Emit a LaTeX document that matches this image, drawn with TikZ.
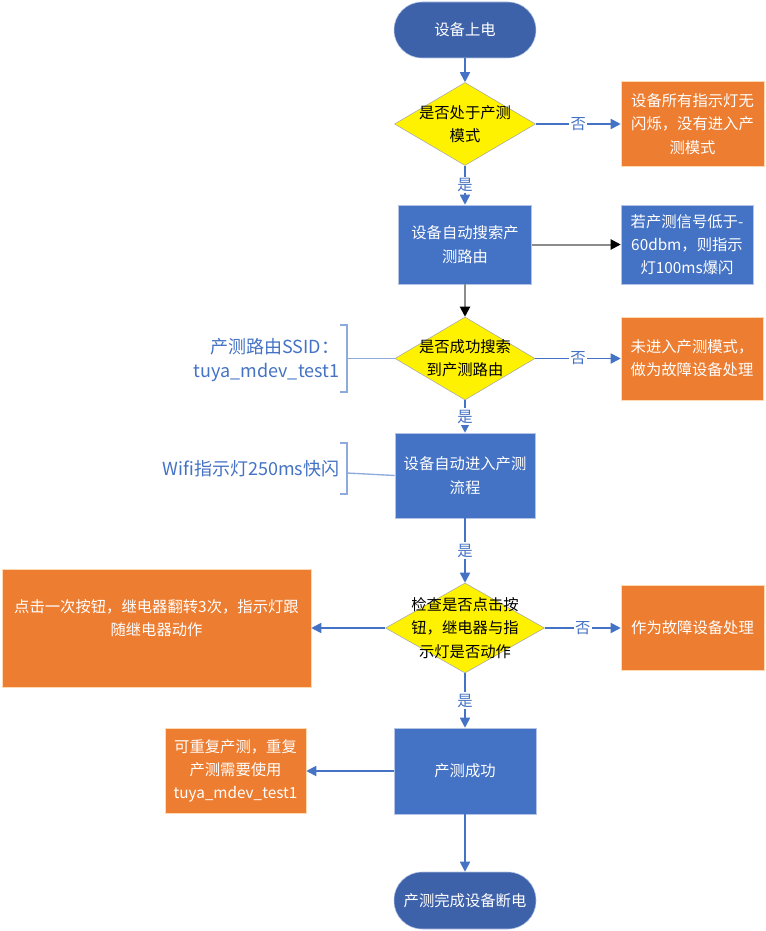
\documentclass[tikz,border=0pt]{standalone}
\usepackage{fontspec}
\setmainfont{Noto Sans CJK SC}
\usetikzlibrary{shapes.geometric,arrows.meta}
\definecolor{lineblue}{HTML}{4472C4}
\definecolor{boxblue}{HTML}{4472C4}
\definecolor{termblue}{HTML}{3E62AA}
\definecolor{boxorange}{HTML}{ED7D31}
\definecolor{edgelight}{HTML}{B4C4E4}
\definecolor{bracketblue}{HTML}{8FAADC}
\begin{document}
\begin{tikzpicture}[x=0.75pt,y=-0.75pt,
  every node/.style={font=\fontsize{11.5pt}{17.5pt}\selectfont},
  term/.style={draw=edgelight, fill=termblue, text=white, rounded corners=21pt, align=center, minimum width=106.5pt, minimum height=42pt},
  bluebox/.style={draw=edgelight, fill=boxblue, text=white, align=center},
  orangebox/.style={draw=orange!30, fill=boxorange, text=white, align=center},
  dia/.style={diamond, draw=gray!70, fill=yellow, inner sep=0pt},
  diatext/.style={align=center, text=black},
  arr/.style={draw=lineblue, line width=1.3pt, -{Triangle[length=7.5pt,width=7.5pt]}},
  grayarr/.style={draw=gray!90, line width=1.5pt, -{Triangle[length=7.5pt,width=7.5pt,color=black]}},
  yesno/.style={fill=white, inner sep=1pt, text=lineblue},
  note/.style={text=lineblue, align=right, anchor=east, font=\fontsize{13.5pt}{18pt}\selectfont},
  bracket/.style={draw=bracketblue, line width=1pt}]
\useasboundingbox (0,0) rectangle (765,931);

% main column
\node[term] (start) at (465,30) {设备上电};
\node[dia, minimum width=105.75pt, minimum height=62.25pt,
  label={[diatext, name=d1t]center:是否处于产测\\模式}] (d1) at (465,124) {};
\node[bluebox, minimum width=99.75pt, minimum height=59.25pt] (search) at (465,244.5) {设备自动搜索产\\测路由};
\node[dia, minimum width=105pt, minimum height=62.25pt,
  label={[diatext, name=d2t]center:是否成功搜索\\到产测路由}] (d2) at (465,358.5) {};
\node[bluebox, minimum width=105pt, minimum height=63.75pt] (enter) at (465,475.5) {设备自动进入产测\\流程};
\node[dia, minimum width=119.25pt, minimum height=67.5pt,
  label={[diatext, name=d3t]center:检查是否点击按\\钮，继电器与指\\示灯是否动作}] (d3) at (465,628) {};
\node[bluebox, minimum width=106.5pt, minimum height=64.5pt] (ok) at (465,771) {产测成功};
\node[term, minimum height=42.75pt] (stop) at (465,900.5) {产测完成设备断电};

% side boxes
\node[orangebox, minimum width=107.25pt, minimum height=63.75pt] (nolight) at (692.5,124) {设备所有指示灯无\\闪烁，没有进入产\\测模式};
\node[bluebox, minimum width=99pt, minimum height=59.25pt] (signal) at (687,244.5) {若产测信号低于-\\60dbm，则指示\\灯100ms爆闪};
\node[orangebox, minimum width=106.5pt, minimum height=62.25pt] (fault1) at (692,358.5) {未进入产测模式，\\做为故障设备处理};
\node[orangebox, minimum width=107.25pt, minimum height=63.75pt] (fault2) at (692.5,628) {作为故障设备处理};
\node[orangebox, minimum width=231.75pt, minimum height=88.5pt, text depth=16pt] (relay) at (156.5,628) {点击一次按钮，继电器翻转3次，指示灯跟\\随继电器动作};
\node[orangebox, minimum width=105.75pt, minimum height=63.75pt] (repeat) at (235.5,771) {可重复产测，重复\\产测需要使用\\tuya\_mdev\_test1};

% notes
\node[note] (ssid) at (344,360) {产测路由SSID：\\tuya\_mdev\_test1};
\node[note] (wifi) at (344,469) {Wifi指示灯250ms快闪};
\draw[bracket] (340,325) -- (347,325) -- (347,392) -- (340,392);
\draw[bracket] (340,443) -- (347,443) -- (347,494) -- (340,494);
\coordinate (s1) at (347,358.5);
\coordinate (s2) at (347,473);
\draw[bracket] (s1) -- (d2.west);
\draw[bracket] (s2) -- (enter.west);

% connectors
\draw[arr] (start) -- (d1);
\draw[arr] (d1) -- node[yesno] {是} (search);
\draw[arr] (d1) -- node[yesno] {否} (nolight);
\draw[grayarr] (search) -- (signal);
\draw[grayarr] (search) -- (d2);
\draw[arr] (d2) -- node[yesno] {否} (fault1);
\draw[arr] (d2) -- node[yesno] {是} (enter);
\draw[arr] (enter) -- node[yesno] {是} (d3);
\draw[arr] (d3) -- node[yesno] {否} (fault2);
\draw[arr] (d3) -- (relay);
\draw[arr] (d3) -- node[yesno] {是} (ok);
\draw[arr] (ok) -- (repeat);
\draw[arr] (ok) -- (stop);
\end{tikzpicture}
\end{document}
